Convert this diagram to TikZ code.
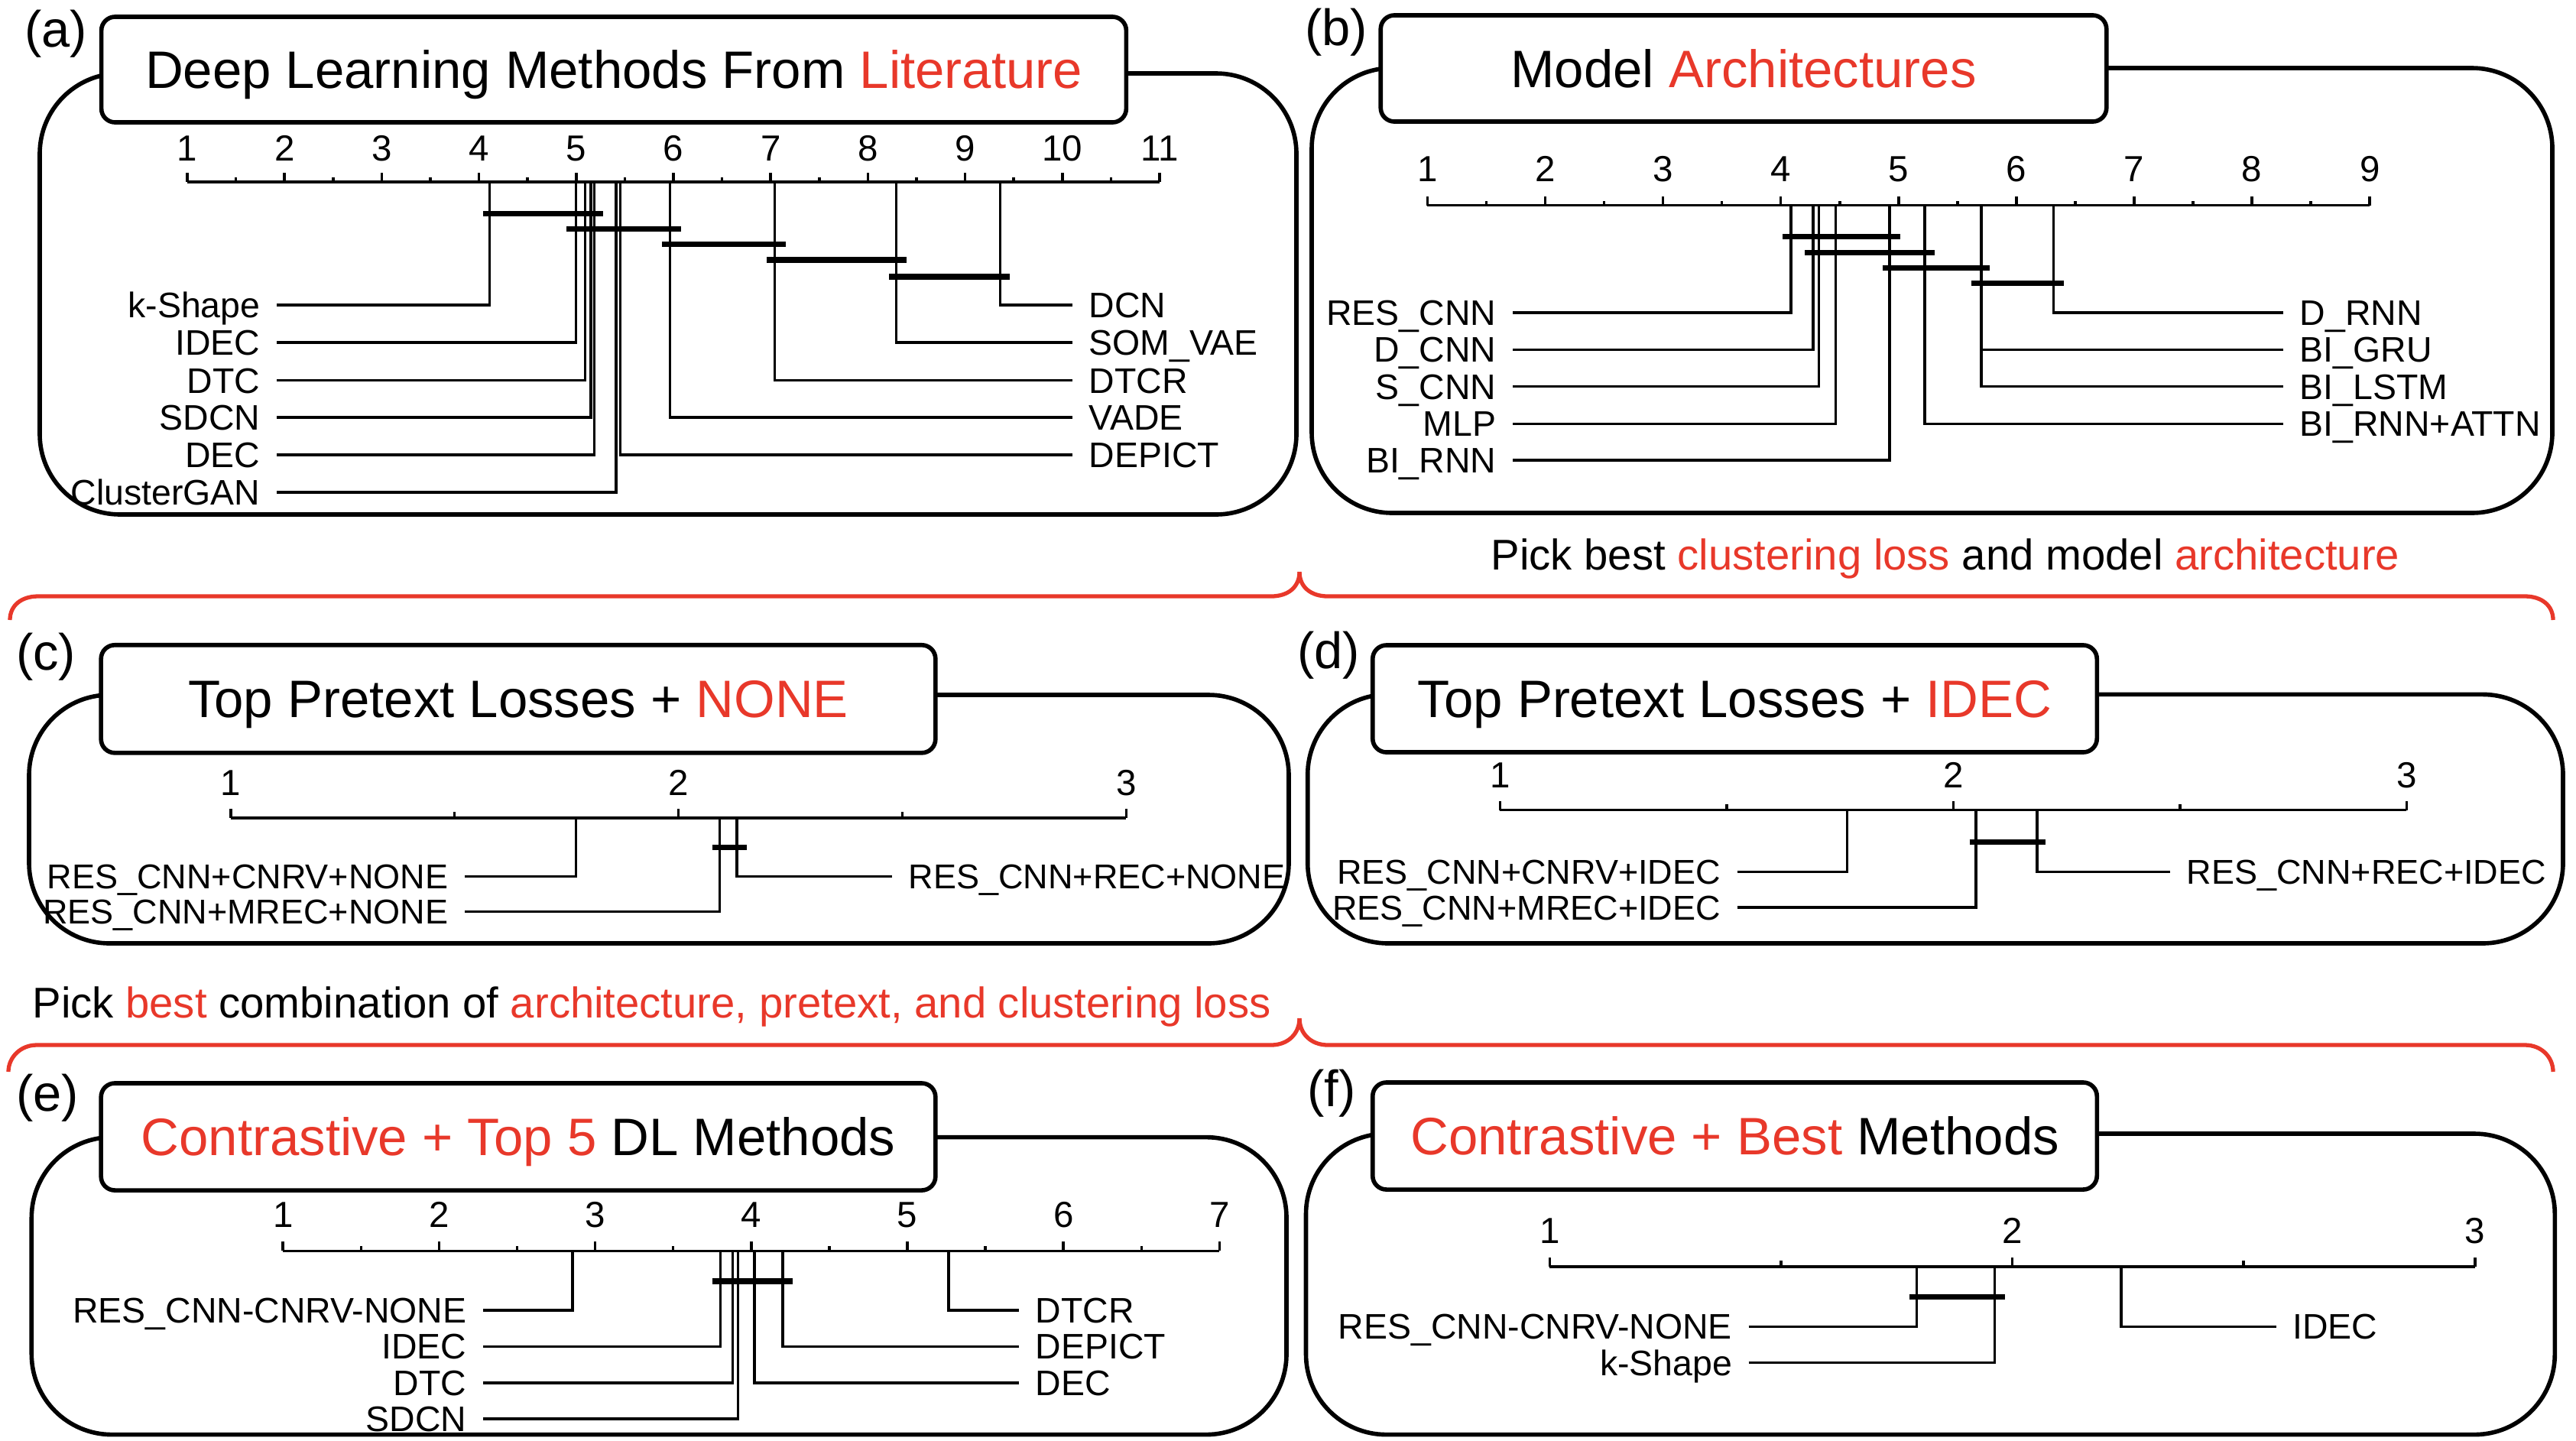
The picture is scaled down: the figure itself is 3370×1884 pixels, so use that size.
\documentclass[tikz,border=0pt]{standalone}
\usepackage{fontspec}
\setmainfont{Liberation Sans}
\usepackage{xcolor}
\usepackage{tikz}
\definecolor{hred}{RGB}{232,56,42}

\begin{document}
\begin{tikzpicture}[x=0.01cm,y=-0.01cm]
	\tikzset{panel/.style={draw, line width=1.6pt, rounded corners=1.05cm},
		titlebox/.style={draw, fill=white, line width=1.6pt, rounded corners=0.18cm, inner sep=0pt,
			text height=14pt, text depth=0pt, font=\fontsize{19.6}{22}\selectfont},
		tag/.style={inner sep=0pt, font=\fontsize{19}{22}\selectfont},
		num/.style={inner sep=0pt, anchor=base, font=\fontsize{13.5}{15}\selectfont},
		lbl/.style={inner xsep=0.21cm, inner ysep=0pt, text height=9.45pt, text depth=0pt,
			font=\fontsize{13.2}{15}\selectfont},
		slbl/.style={lbl, text height=9.2pt, font=\fontsize{12.8}{15}\selectfont},
		scaleln/.style={line width=1pt},
		tickln/.style={line width=1pt},
		conn/.style={line width=1pt},
		cd/.style={line width=2.1pt},
		redbrace/.style={draw=hred, line width=1.5pt},
		pick/.style={inner sep=0pt, anchor=base, font=\fontsize{16}{18}\selectfont},
	}
	\useasboundingbox (0,0) rectangle (3370,1884);

	%% panel a
	\draw[panel] (52,96) rectangle (1696,673);
	\node[titlebox, minimum width=13.4cm, minimum height=1.38cm] (a-title) at (803,91) {Deep Learning Methods From \textcolor{hred}{Literature}};
	\node[tag] (a-tag) at (73,44) {(a)};
	\draw[scaleln] (245,238) -- (1517,238);
	\foreach \i in {1,...,11} {
		\draw[tickln] ({245+(\i-1)*127.2},238) -- ++(0,-12);
		\node[num] (a-n\i) at ({245+(\i-1)*127.2},210) {\i};
	}
	\foreach \i in {1,...,10} \draw[tickln] ({245+(\i-0.5)*127.2},238) -- ++(0,-6);
	\foreach \nm/\txt/\xr/\yr in {kshape/k-Shape/640.6/399, idec/IDEC/753.3/448, dtc/DTC/765.7/497.5,
		sdcn/SDCN/773/546, dec/DEC/777.5/595, cgan/ClusterGAN/806/644} {
		\node[lbl, anchor=east] (a-\nm) at (362,\yr) {\txt};
		\coordinate (a-\nm-r) at (\xr,238);
		\draw[conn] (a-\nm.east) -| (a-\nm-r);
	}
	\foreach \nm/\txt/\xr/\yr in {dcn/DCN/1308.4/399, somvae/SOM\_VAE/1172.6/448, dtcr/DTCR/1013.3/497.5,
		vade/VADE/876.7/546, depict/DEPICT/811.5/595} {
		\node[lbl, anchor=west] (a-\nm) at (1403,\yr) {\txt};
		\coordinate (a-\nm-r) at (\xr,238);
		\draw[conn] (a-\nm.west) -| (a-\nm-r);
	}
	\draw[cd] (632,279.5) -- (789,279.5);
	\draw[cd] (741,299.5) -- (891,299.5);
	\draw[cd] (866,319.5) -- (1028,319.5);
	\draw[cd] (1003,340) -- (1186,340);
	\draw[cd] (1163,362) -- (1321,362);

	%% panel b
	\draw[panel] (1716,89) rectangle (3339,671);
	\node[titlebox, minimum width=9.49cm, minimum height=1.39cm] (b-title) at (2281,89.5) {Model \textcolor{hred}{Architectures}};
	\node[tag] (b-tag) at (1748,42.5) {(b)};
	\draw[scaleln] (1867.4,268.7) -- (3100.2,268.7);
	\foreach \i in {1,...,9} {
		\draw[tickln] ({1867.4+(\i-1)*154.1},268.7) -- ++(0,-12);
		\node[num] (b-n\i) at ({1867.4+(\i-1)*154.1},237) {\i};
	}
	\foreach \i in {1,...,8} \draw[tickln] ({1867.4+(\i-0.5)*154.1},268.7) -- ++(0,-6);
	\foreach \nm/\txt/\xr/\yr in {rescnn/RES\_CNN/2343/409, dcnn/D\_CNN/2372/457.3, scnn/S\_CNN/2379.3/505.6,
		mlp/MLP/2401.7/554.3, birnn/BI\_RNN/2472/602} {
		\node[lbl, anchor=east] (b-\nm) at (1979,\yr) {\txt};
		\coordinate (b-\nm-r) at (\xr,268.7);
		\draw[conn] (b-\nm.east) -| (b-\nm-r);
	}
	\foreach \nm/\txt/\xr/\yr in {drnn/D\_RNN/2686.5/409, bigru/BI\_GRU/2591.5/457.3, bilstm/BI\_LSTM/2592/505.6,
		battn/BI\_RNN+ATTN/2518/554.3} {
		\node[lbl, anchor=west] (b-\nm) at (2987,\yr) {\txt};
		\coordinate (b-\nm-r) at (\xr,268.7);
		\draw[conn] (b-\nm.west) -| (b-\nm-r);
	}
	\draw[cd] (2332.4,309.3) -- (2486,309.3);
	\draw[cd] (2361,330.4) -- (2531,330.4);
	\draw[cd] (2462.5,350.5) -- (2603,350.5);
	\draw[cd] (2578.7,370.6) -- (2700,370.6);

	%% first brace
	\node[pick] (pick1) at (2545,745) {Pick best \textcolor{hred}{clustering loss} and model \textcolor{hred}{architecture}};
	\draw[redbrace] (13,811) .. controls (13,792) and (28,780) .. (50,780) -- (1663,780)
		.. controls (1685,780) and (1700,768) .. (1700,748);
	\draw[redbrace] (1700,748) .. controls (1700,768) and (1715,780) .. (1737,780) -- (3303,780)
		.. controls (3325,780) and (3340,792) .. (3340,811);

	%% panel c
	\draw[panel] (38,909) rectangle (1686,1234);
	\node[titlebox, minimum width=10.91cm, minimum height=1.41cm] (c-title) at (678,914.3) {Top Pretext Losses + \textcolor{hred}{NONE}};
	\node[tag] (c-tag) at (60,859) {(c)};
	\draw[scaleln] (301.8,1069.8) -- (1473.4,1069.8);
	\foreach \i in {1,2,3} {
		\draw[tickln] ({301.8+(\i-1)*585.8},1069.8) -- ++(0,-12);
		\node[num] (c-n\i) at ({301.8+(\i-1)*585.8},1040) {\i};
	}
	\foreach \i in {1,2} \draw[tickln] ({301.8+(\i-0.5)*585.8},1069.8) -- ++(0,-8);
	\foreach \nm/\txt/\xr/\yr in {cnrv/RES\_CNN+CNRV+NONE/753.5/1146.3, mrec/RES\_CNN+MREC+NONE/941.4/1192.4} {
		\node[slbl, anchor=east] (c-\nm) at (608,\yr) {\txt};
		\coordinate (c-\nm-r) at (\xr,1069.8);
		\draw[conn] (c-\nm.east) -| (c-\nm-r);
	}
	\node[slbl, anchor=west] (c-rec) at (1167,1146.3) {RES\_CNN+REC+NONE};
	\coordinate (c-rec-r) at (964.2,1069.8);
	\draw[conn] (c-rec.west) -| (c-rec-r);
	\draw[cd] (931.6,1108.7) -- (977,1108.7);

	%% panel d
	\draw[panel] (1710.7,908.4) rectangle (3353,1234);
	\node[titlebox, minimum width=9.47cm, minimum height=1.40cm] (d-title) at (2269.5,914) {Top Pretext Losses + \textcolor{hred}{IDEC}};
	\node[tag] (d-tag) at (1738,857) {(d)};
	\draw[scaleln] (1962.3,1059.6) -- (3148.3,1059.6);
	\foreach \i in {1,2,3} {
		\draw[tickln] ({1962.3+(\i-1)*593},1059.6) -- ++(0,-12);
		\node[num] (d-n\i) at ({1962.3+(\i-1)*593},1030) {\i};
	}
	\foreach \i in {1,2} \draw[tickln] ({1962.3+(\i-0.5)*593},1059.6) -- ++(0,-8);
	\foreach \nm/\txt/\xr/\yr in {cnrv/RES\_CNN+CNRV+IDEC/2416.6/1140.5, mrec/RES\_CNN+MREC+IDEC/2585/1187} {
		\node[slbl, anchor=east] (d-\nm) at (2272.7,\yr) {\txt};
		\coordinate (d-\nm-r) at (\xr,1059.6);
		\draw[conn] (d-\nm.east) -| (d-\nm-r);
	}
	\node[slbl, anchor=west] (d-rec) at (2839,1140.5) {RES\_CNN+REC+IDEC};
	\coordinate (d-rec-r) at (2665,1059.6);
	\draw[conn] (d-rec.west) -| (d-rec-r);
	\draw[cd] (2576.6,1101.7) -- (2675.8,1101.7);

	%% second brace
	\node[pick] (pick2) at (852.5,1331) {Pick \textcolor{hred}{best} combination of \textcolor{hred}{architecture, pretext, and clustering loss}};
	\draw[redbrace] (11,1402) .. controls (11,1383) and (27,1367) .. (48,1367) -- (1663,1367)
		.. controls (1685,1367) and (1700,1352) .. (1700,1332);
	\draw[redbrace] (1700,1332) .. controls (1700,1352) and (1715,1367) .. (1737,1367) -- (3303,1367)
		.. controls (3325,1367) and (3340,1383) .. (3340,1402);

	%% panel e
	\draw[panel] (41.3,1487.6) rectangle (1683,1876.6);
	\node[titlebox, minimum width=10.91cm, minimum height=1.40cm] (e-title) at (678,1487) {\textcolor{hred}{Contrastive + Top 5} DL Methods};
	\node[tag] (e-tag) at (62,1436) {(e)};
	\draw[scaleln] (370.2,1636.3) -- (1595.4,1636.3);
	\foreach \i in {1,...,7} {
		\draw[tickln] ({370.2+(\i-1)*204.2},1636.3) -- ++(0,-12);
		\node[num] (e-n\i) at ({370.2+(\i-1)*204.2},1605.7) {\i};
	}
	\foreach \i in {1,...,6} \draw[tickln] ({370.2+(\i-0.5)*204.2},1636.3) -- ++(0,-6);
	\foreach \nm/\txt/\xr/\yr in {cnrv/RES\_CNN-CNRV-NONE/749.2/1714, idec/IDEC/942.5/1761.3,
		dtc/DTC/958.7/1809, sdcn/SDCN/965.3/1855.8} {
		\node[lbl, anchor=east] (e-\nm) at (632,\yr) {\txt};
		\coordinate (e-\nm-r) at (\xr,1636.3);
		\draw[conn] (e-\nm.east) -| (e-\nm-r);
	}
	\foreach \nm/\txt/\xr/\yr in {dtcr/DTCR/1241/1714, depict/DEPICT/1023.9/1761.3, dec/DEC/987/1809} {
		\node[lbl, anchor=west] (e-\nm) at (1333,\yr) {\txt};
		\coordinate (e-\nm-r) at (\xr,1636.3);
		\draw[conn] (e-\nm.west) -| (e-\nm-r);
	}
	\draw[cd] (931.6,1676) -- (1036.9,1676);

	%% panel f
	\draw[panel] (1708.5,1483) rectangle (3342.3,1876.6);
	\node[titlebox, minimum width=9.47cm, minimum height=1.40cm] (f-title) at (2269.5,1486) {\textcolor{hred}{Contrastive + Best} Methods};
	\node[tag] (f-tag) at (1742,1430) {(f)};
	\draw[scaleln] (2027.4,1656.8) -- (3237.8,1656.8);
	\foreach \i in {1,2,3} {
		\draw[tickln] ({2027.4+(\i-1)*605.2},1656.8) -- ++(0,-12);
		\node[num] (f-n\i) at ({2027.4+(\i-1)*605.2},1626.6) {\i};
	}
	\foreach \i in {1,2} \draw[tickln] ({2027.4+(\i-0.5)*605.2},1656.8) -- ++(0,-8);
	\foreach \nm/\txt/\xr/\yr in {cnrv/RES\_CNN-CNRV-NONE/2507.3/1735.3, kshape/k-Shape/2609.7/1782.5} {
		\node[lbl, anchor=east] (f-\nm) at (2287.6,\yr) {\txt};
		\coordinate (f-\nm-r) at (\xr,1656.8);
		\draw[conn] (f-\nm.east) -| (f-\nm-r);
	}
	\node[lbl, anchor=west] (f-idec) at (2977.6,1735.3) {IDEC};
	\coordinate (f-idec-r) at (2775,1656.8);
	\draw[conn] (f-idec.west) -| (f-idec-r);
	\draw[cd] (2497.7,1696.7) -- (2622.5,1696.7);
\end{tikzpicture}
\end{document}
